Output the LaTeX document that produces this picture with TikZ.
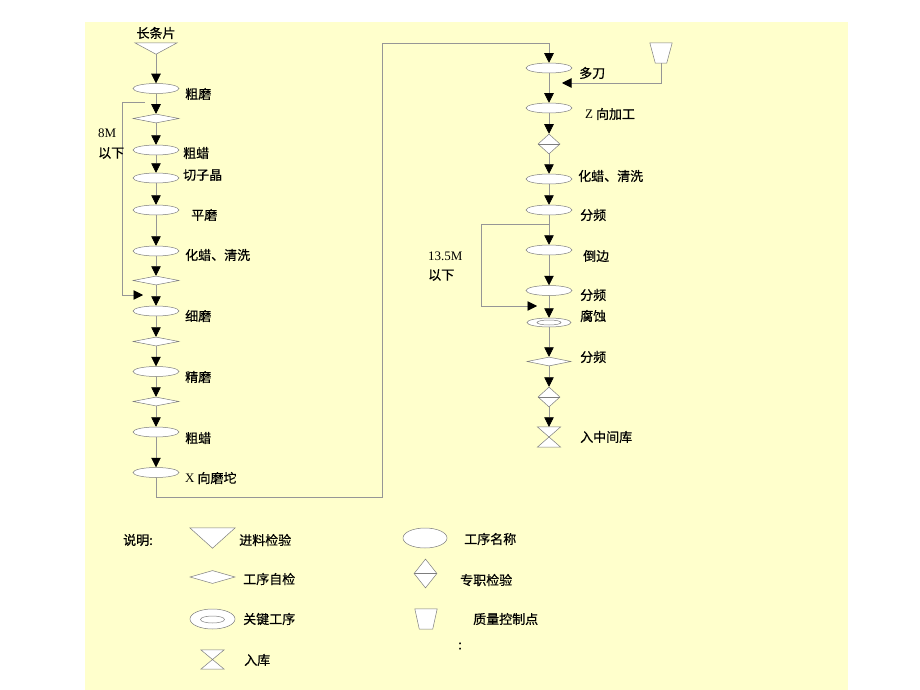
\documentclass[tikz,border=0pt]{standalone}
\usepackage{fontspec}
\setmainfont{Liberation Serif}
\newfontfamily\cjk[FakeBold=0.6]{Noto Sans CJK SC}
\usetikzlibrary{shapes.geometric,arrows.meta}
\definecolor{bgyellow}{RGB}{255,255,204}
\definecolor{linegray}{RGB}{150,150,150}
\definecolor{shapegray}{RGB}{125,125,125}
\tikzset{
  line/.style={draw=linegray, line width=0.6pt},
  arr/.style={line, -{Triangle[width=9.5pt,length=9.5pt,color=black]}},
  shp/.style={draw=shapegray, fill=white, line width=0.5pt},
  proc/.style={shp, ellipse, inner sep=0pt, minimum width=46pt, minimum height=10pt},
  chk/.style={shp, diamond, inner sep=0pt, minimum width=46pt, minimum height=9pt},
  spec/.style={shp, diamond, inner sep=0pt, minimum width=22pt, minimum height=20pt},
  box/.style={rectangle, inner sep=0pt},
  lab/.style={anchor=west, inner sep=0pt, font=\fontsize{13}{15}\selectfont\cjk},
  clab/.style={inner sep=0pt, font=\fontsize{13}{15}\selectfont\cjk},
}
\begin{document}
\begin{tikzpicture}[x=1pt,y=-1pt]
\useasboundingbox (0,0) rectangle (920,690);
\fill[white] (0,0) rectangle (920,690);
\fill[bgyellow] (85,22) rectangle (848,690);

% ---------- left column ----------
\node[clab] (t0lab) at (156,33) {长条片};
\node[box, minimum width=42pt, minimum height=11pt] (t0) at (156,48.5) {};
\draw[shp] (t0.north west) -- (t0.north east) -- (t0.south) -- cycle;
\node[proc] (a1) at (156,88.5) {};
\node[chk]  (d1) at (156,118.5) {};
\node[proc] (a2) at (156,150) {};
\node[proc] (a3) at (156,178) {};
\node[proc] (a4) at (156,210) {};
\node[proc] (a5) at (156,251) {};
\node[chk]  (d2) at (156,280.5) {};
\node[proc] (a6) at (156,311) {};
\node[chk]  (d3) at (156,341.5) {};
\node[proc] (a7) at (156,371.5) {};
\node[chk]  (d4) at (156,401.5) {};
\node[proc] (a8) at (156,432) {};
\node[proc] (a9) at (156,472.5) {};
\foreach \s/\t in {t0/a1,a1/d1,d1/a2,a2/a3,a3/a4,a4/a5,a5/d2,d2/a6,a6/d3,d3/a7,a7/d4,d4/a8,a8/a9}
  \draw[arr] (\s.south) -- (\t.north);

\node[lab] (la1) at (185,94) {粗磨};
\node[lab] (la2) at (183,153) {粗蜡};
\node[lab] (la3) at (183,175) {切子晶};
\node[lab] (la4) at (191,215) {平磨};
\node[lab] (la5) at (185,255) {化蜡、清洗};
\node[lab] (la6) at (185,316) {细磨};
\node[lab] (la7) at (185,377) {精磨};
\node[lab] (la8) at (185,438) {粗蜡};
\node[lab] (la9) at (185,478) {{\rmfamily X} 向磨坨};

% 8M loop
\coordinate (lpa) at (145,102);
\coordinate (lpb) at (143,295);
\draw[arr] (lpa) -- ++(-23,0) |- (lpb);
\node[lab] (l8m) at (98,133) {\rmfamily 8M};
\node[lab] (l8y) at (98,153) {以下};

% connector to right column
\coordinate (c1) at (382,497);
\coordinate (c2) at (382,43);

% ---------- right column ----------
\node[proc] (b1) at (549,68) {};
\node[proc] (b2) at (549,108) {};
\node[spec] (e1) at (549,144) {};
\draw[shp] (e1.west) -- (e1.east);
\node[proc] (b3) at (549,179) {};
\node[proc] (b4) at (549,210) {};
\node[proc] (b5) at (549,250) {};
\node[proc] (b6) at (549,290.5) {};
\node[proc, minimum width=44pt, minimum height=9pt] (b7) at (549,322.5) {};
\node[shp, ellipse, inner sep=0pt, minimum width=24pt, minimum height=5pt] (b7i) at (549,322.5) {};
\node[chk, minimum width=44pt] (e2) at (549,361.5) {};
\node[spec] (e3) at (549,397) {};
\draw[shp] (e3.west) -- (e3.east);
\node[box, minimum width=23pt, minimum height=20pt] (h1) at (549,437) {};
\draw[shp] (h1.north west) -- (h1.north east) -- (h1.south west) -- (h1.south east) -- cycle;
\foreach \s/\t in {b1/b2,b2/e1,e1/b3,b3/b4,b4/b5,b5/b6,b6/b7,b7/e2,e2/e3,e3/h1}
  \draw[arr] (\s.south) -- (\t.north);

\draw[arr] (a9.south) |- (c1) -- (c2) -| (b1.north);

% quality control point
\node[box, minimum width=22pt, minimum height=20pt] (qc) at (661,53) {};
\draw[shp] (qc.north west) -- (qc.north east) -- ([xshift=-5.5pt]qc.south east) -- ([xshift=5.5pt]qc.south west) -- cycle;
\coordinate (qce) at (562,83);
\draw[arr] (qc.south) |- (qce);

% 13.5M loop
\coordinate (rpa) at (549,224);
\coordinate (rpb) at (537,306);
\draw[arr] (rpa) -- ++(-68,0) |- (rpb);
\node[lab] (r135) at (428,256) {\rmfamily 13.5M};
\node[lab] (r13y) at (428,275) {以下};

\node[lab] (lb1) at (579,73) {多刀};
\node[lab] (lb2) at (585,114) {{\rmfamily Z} 向加工};
\node[lab] (lb3) at (578,176) {化蜡、清洗};
\node[lab] (lb4) at (580,215) {分频};
\node[lab] (lb5) at (583,256) {倒边};
\node[lab] (lb6) at (580,295) {分频};
\node[lab] (lb7) at (580,316) {腐蚀};
\node[lab] (lb8) at (580,357) {分频};
\node[lab] (lb9) at (580,437) {入中间库};

% ---------- legend ----------
\node[lab] (sm) at (123,540) {说明:};
\node[box, minimum width=45pt, minimum height=20pt] (g1) at (212.5,538) {};
\draw[shp] (g1.north west) -- (g1.north east) -- (g1.south) -- cycle;
\node[lab] (g1l) at (239,540) {进料检验};
\node[chk, minimum width=45pt, minimum height=13pt] (g2) at (212.5,577) {};
\node[lab] (g2l) at (243,579) {工序自检};
\node[proc, minimum width=45pt, minimum height=20pt] (g3) at (212.5,619) {};
\node[shp, ellipse, inner sep=0pt, minimum width=24pt, minimum height=7pt] (g3i) at (212.5,619.5) {};
\node[lab] (g3l) at (243,619) {关键工序};
\node[box, minimum width=23pt, minimum height=19pt] (g4) at (212.5,659.5) {};
\draw[shp] (g4.north west) -- (g4.north east) -- (g4.south west) -- (g4.south east) -- cycle;
\node[lab] (g4l) at (244,660) {入库};

\node[proc, minimum width=44pt, minimum height=20pt] (g5) at (425,538) {};
\node[lab] (g5l) at (464,539) {工序名称};
\node[spec, minimum width=23pt, minimum height=29pt] (g6) at (425.5,573.5) {};
\draw[shp] (g6.west) -- (g6.east);
\node[lab] (g6l) at (460,580) {专职检验};
\node[box, minimum width=22pt, minimum height=20pt] (g7) at (426,619) {};
\draw[shp] (g7.north west) -- (g7.north east) -- ([xshift=-4.5pt]g7.south east) -- ([xshift=4.5pt]g7.south west) -- cycle;
\node[lab] (g7l) at (473,619) {质量控制点};
\node[lab] (g8) at (458,646) {:};
\end{tikzpicture}
\end{document}
